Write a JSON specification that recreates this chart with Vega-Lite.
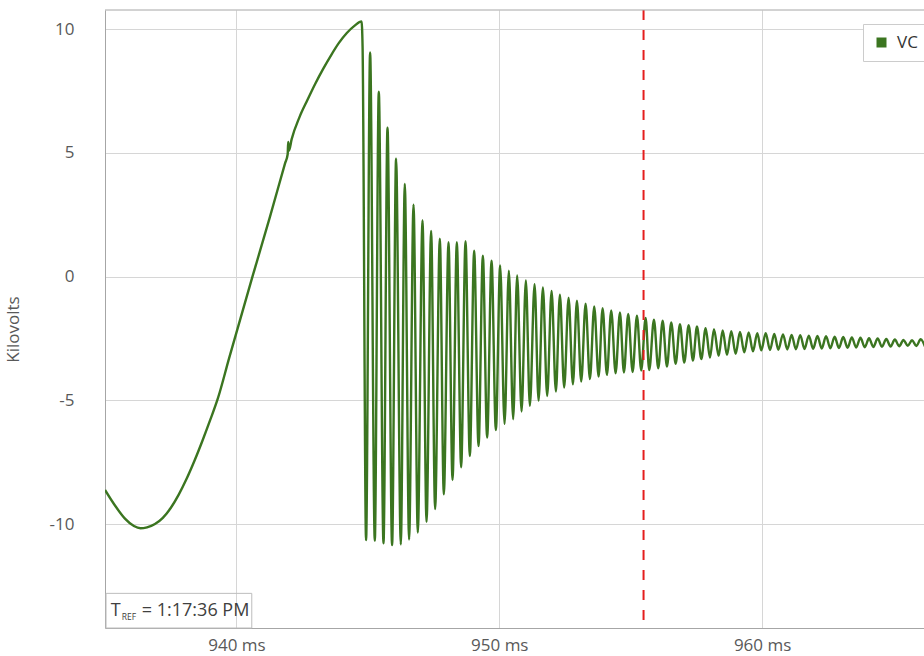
{
  "$schema": "https://vega.github.io/schema/vega-lite/v6.json",
  "width": 819,
  "height": 618,
  "autosize": {"type": "none"},
  "padding": {"left": 105, "top": 10, "right": 0, "bottom": 28},
  "background": "white",
  "config": {"view": {"stroke": null}, "font": "Open Sans"},
  "layer": [
    {
      "data": {"values": [
        {"t":935.00,"kv":-8.62},{"t":935.38,"kv":-9.25},{"t":935.76,"kv":-9.78},{"t":936.10,"kv":-10.08},{"t":936.35,"kv":-10.17},{"t":936.60,"kv":-10.13},{"t":936.90,"kv":-10.00},{"t":937.20,"kv":-9.75},{"t":937.50,"kv":-9.35},{"t":937.80,"kv":-8.82},{"t":938.10,"kv":-8.18},{"t":938.40,"kv":-7.45},{"t":938.70,"kv":-6.65},{"t":939.00,"kv":-5.80},{"t":939.30,"kv":-4.90},{"t":939.72,"kv":-3.30},{"t":940.61,"kv":0.00},{"t":941.27,"kv":2.40},{"t":941.85,"kv":4.58},{"t":941.95,"kv":4.95},{"t":941.97,"kv":5.45},{"t":942.00,"kv":5.10},{"t":942.10,"kv":5.55},{"t":942.40,"kv":6.45},{"t":942.70,"kv":7.14},{"t":943.00,"kv":7.80},{"t":943.30,"kv":8.40},{"t":943.60,"kv":8.95},{"t":943.90,"kv":9.45},{"t":944.20,"kv":9.85},{"t":944.50,"kv":10.15},{"t":944.76,"kv":10.32},{"t":944.80,"kv":9.30},
        {"t":944.933,"kv":-10.65},{"t":945.086,"kv":9.06},{"t":945.265,"kv":-10.67},{"t":945.417,"kv":7.48},{"t":945.596,"kv":-10.78},{"t":945.748,"kv":6.02},{"t":945.923,"kv":-10.85},{"t":946.075,"kv":4.77},{"t":946.254,"kv":-10.82},{"t":946.406,"kv":3.75},{"t":946.570,"kv":-10.62},{"t":946.738,"kv":2.91},{"t":946.901,"kv":-10.34},{"t":947.080,"kv":2.28},{"t":947.233,"kv":-9.91},{"t":947.408,"kv":1.85},{"t":947.560,"kv":-9.39},{"t":947.739,"kv":1.54},{"t":947.891,"kv":-8.80},{"t":948.070,"kv":1.39},{"t":948.222,"kv":-8.22},{"t":948.386,"kv":1.39},{"t":948.550,"kv":-7.70},{"t":948.717,"kv":1.43},{"t":948.881,"kv":-7.25},{"t":949.045,"kv":1.05},{"t":949.212,"kv":-6.85},{"t":949.376,"kv":0.85},{"t":949.539,"kv":-6.50},{"t":949.707,"kv":0.65},{"t":949.871,"kv":-6.20},{"t":950.034,"kv":0.45},{"t":950.202,"kv":-5.95},{"t":950.365,"kv":0.24},{"t":950.529,"kv":-5.76},{"t":950.681,"kv":0.05},{"t":950.849,"kv":-5.45},{"t":951.013,"kv":-0.15},{"t":951.165,"kv":-5.22},{"t":951.344,"kv":-0.30},{"t":951.496,"kv":-5.01},{"t":951.660,"kv":-0.43},{"t":951.823,"kv":-4.82},{"t":951.991,"kv":-0.58},{"t":952.155,"kv":-4.64},{"t":952.307,"kv":-0.73},{"t":952.470,"kv":-4.48},{"t":952.638,"kv":-0.85},{"t":952.802,"kv":-4.35},{"t":952.954,"kv":-0.97},{"t":953.118,"kv":-4.24},{"t":953.285,"kv":-1.09},{"t":953.449,"kv":-4.14},{"t":953.613,"kv":-1.20},{"t":953.780,"kv":-4.04},{"t":953.932,"kv":-1.27},{"t":954.096,"kv":-3.97},{"t":954.260,"kv":-1.36},{"t":954.427,"kv":-3.90},{"t":954.591,"kv":-1.45},{"t":954.743,"kv":-3.87},{"t":954.907,"kv":-1.51},{"t":955.074,"kv":-3.85},{"t":955.238,"kv":-1.58},{"t":955.402,"kv":-3.79},{"t":955.569,"kv":-1.67},
        {"t":955.706,"kv":-3.77},{"t":955.885,"kv":-1.74},{"t":956.049,"kv":-3.70},{"t":956.216,"kv":-1.78},{"t":956.380,"kv":-3.63},{"t":956.544,"kv":-1.85},{"t":956.711,"kv":-3.52},{"t":956.875,"kv":-1.92},{"t":957.039,"kv":-3.47},{"t":957.206,"kv":-1.96},{"t":957.370,"kv":-3.39},{"t":957.522,"kv":-2.01},{"t":957.686,"kv":-3.33},{"t":957.853,"kv":-2.08},{"t":958.017,"kv":-3.27},{"t":958.169,"kv":-2.12},{"t":958.348,"kv":-3.20},{"t":958.500,"kv":-2.17},{"t":958.664,"kv":-3.16},{"t":958.828,"kv":-2.20},{"t":958.995,"kv":-3.12},{"t":959.159,"kv":-2.23},{"t":959.322,"kv":-3.06},{"t":959.490,"kv":-2.25},{"t":959.653,"kv":-3.02},{"t":959.817,"kv":-2.28},{"t":959.969,"kv":-2.98},{"t":960.137,"kv":-2.28},{"t":960.301,"kv":-2.96},{"t":960.464,"kv":-2.31},{"t":960.617,"kv":-2.95},{"t":960.796,"kv":-2.33},{"t":960.959,"kv":-2.94},{"t":961.123,"kv":-2.35},{"t":961.287,"kv":-2.93},{"t":961.451,"kv":-2.36},{"t":961.614,"kv":-2.92},{"t":961.778,"kv":-2.38},{"t":961.942,"kv":-2.91},{"t":962.105,"kv":-2.40},{"t":962.269,"kv":-2.90},{"t":962.433,"kv":-2.41},{"t":962.596,"kv":-2.89},{"t":962.760,"kv":-2.43},{"t":962.924,"kv":-2.88},{"t":963.087,"kv":-2.44},{"t":963.251,"kv":-2.87},{"t":963.415,"kv":-2.46},{"t":963.578,"kv":-2.86},{"t":963.742,"kv":-2.47},{"t":963.906,"kv":-2.85},{"t":964.069,"kv":-2.49},{"t":964.233,"kv":-2.84},{"t":964.397,"kv":-2.50},{"t":964.561,"kv":-2.83},{"t":964.724,"kv":-2.52},{"t":964.888,"kv":-2.82},{"t":965.052,"kv":-2.54},{"t":965.215,"kv":-2.81},{"t":965.379,"kv":-2.56},{"t":965.543,"kv":-2.79},{"t":965.706,"kv":-2.57},{"t":965.870,"kv":-2.80},{"t":966.034,"kv":-2.53},{"t":966.197,"kv":-2.82}
      ]},
      "mark": {"type": "line", "interpolate": "monotone", "strokeWidth": 2.4, "clip": true},
      "encoding": {
        "x": {
          "field": "t", "type": "quantitative",
          "scale": {"domain": [935, 966.16], "nice": false, "zero": false},
          "axis": {
            "values": [940, 950, 960], "labelExpr": "datum.value + ' ms'", "title": null,
            "grid": true, "gridColor": "#d6d6d6", "ticks": false, "tickSize": 0,
            "labelPadding": 9, "labelFontSize": 17, "labelColor": "#595959", "labelFont": "Open Sans",
            "domain": true, "domainColor": "#a6a6a6"
          }
        },
        "y": {
          "field": "kv", "type": "quantitative",
          "scale": {"domain": [-14.2, 10.78], "nice": false, "zero": false},
          "axis": {
            "values": [-10, -5, 0, 5, 10], "labelExpr": "'' + datum.value",
            "grid": true, "gridColor": "#d6d6d6", "ticks": false, "tickSize": 0,
            "labelPadding": 31, "labelFontSize": 17, "labelColor": "#595959", "labelFont": "Open Sans",
            "domain": true, "domainColor": "#a6a6a6",
            "title": "Kilovolts", "titleFontSize": 17, "titleFontWeight": "normal", "titleColor": "#595959",
            "titleFont": "Open Sans", "titleX": -92, "titleY": 319, "titleBaseline": "middle", "titleAlign": "center"
          }
        },
        "color": {
          "datum": "VC",
          "scale": {"range": ["#3b7520"]},
          "legend": {
            "orient": "none", "legendX": 758, "legendY": 14, "title": null,
            "symbolType": "square", "symbolSize": 100, "symbolStrokeWidth": 0,
            "symbolFillColor": "#3b7520",
            "labelFontSize": 17, "labelColor": "#333333", "labelFont": "Open Sans",
            "labelOffset": 7, "padding": 10,
            "strokeColor": "#cccccc", "fillColor": "white",
            "labelExpr": "datum.label + '      '",
            "encode": {"symbols": {"update": {"fill": {"value": "#3b7520"}, "strokeWidth": {"value": 0}}}}
          }
        }
      }
    },
    {
      "data": {"values": [{}]},
      "mark": {"type": "rule", "color": "#e41e1e", "strokeWidth": 2, "strokeDash": [10, 10]},
      "encoding": {"x": {"datum": 955.49}}
    },
    {
      "data": {"values": [{}]},
      "mark": {"type": "rule", "color": "#a6a6a6", "strokeWidth": 1},
      "encoding": {"y": {"datum": 10.78}}
    },
    {
      "data": {"values": [{}]},
      "mark": {"type": "rect", "fillOpacity": 0, "stroke": "#bdbdbd", "strokeWidth": 1},
      "encoding": {
        "x": {"datum": 935.04}, "x2": {"datum": 940.584},
        "y": {"datum": -12.80}, "y2": {"datum": -14.2}
      }
    },
    {
      "data": {"values": [{"label": "T", "t": 935.215, "kv": -13.735, "size": 18}, {"label": "REF", "t": 935.64, "kv": -13.88, "size": 8.5}, {"label": "= 1:17:36 PM", "t": 936.40, "kv": -13.735, "size": 18}]},
      "mark": {"type": "text", "align": "left", "baseline": "alphabetic", "color": "#404040", "font": "Open Sans"},
      "encoding": {
        "x": {"field": "t", "type": "quantitative"},
        "y": {"field": "kv", "type": "quantitative"},
        "text": {"field": "label"},
        "size": {"field": "size", "type": "quantitative", "scale": null, "legend": null}
      }
    }
  ]
}
